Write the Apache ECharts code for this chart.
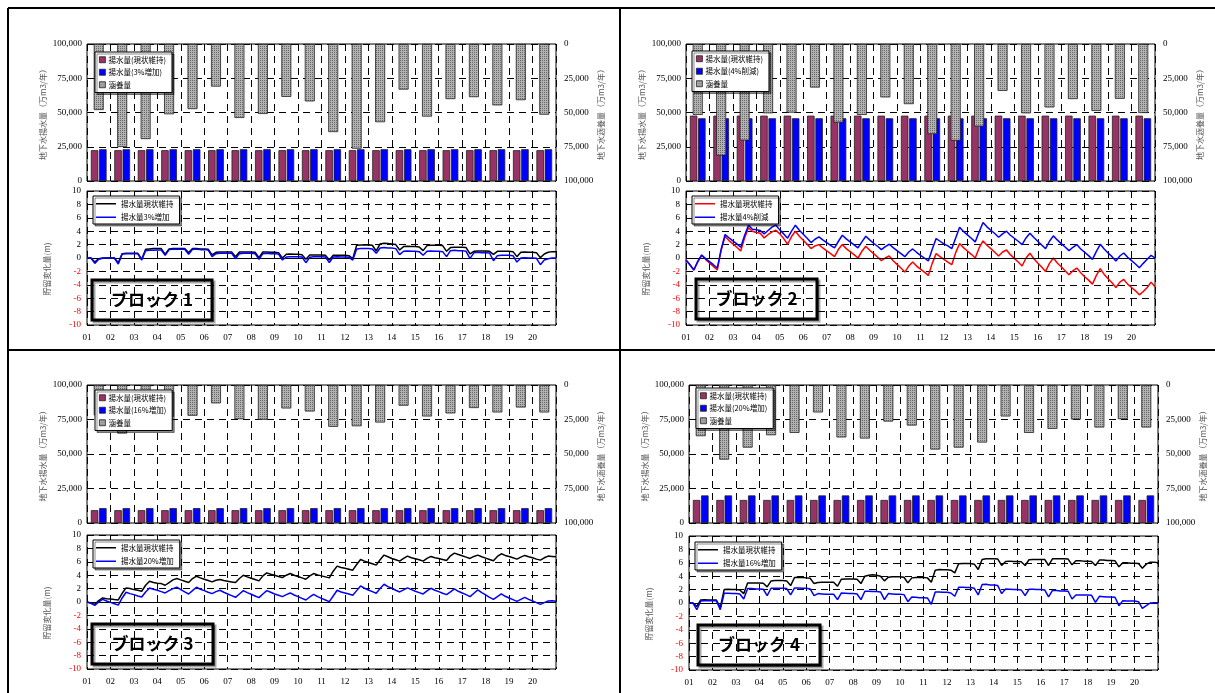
<!DOCTYPE html>
<html>
<head>
<meta charset="utf-8">
<script src="https://cdn.jsdelivr.net/npm/echarts@6/dist/echarts.min.js"></script>
<style>
  html, body { margin: 0; padding: 0; background: #fff; }
  #chart { width: 1215px; height: 693px; }
</style>
</head>
<body>
<div id="chart"></div>
<script>
// ---- categories / tick labels ----
const categories = ['01','02','03','04','05','06','07','08','09','10','11','12','13','14','15','16','17','18','19','20'];
const yearLabels = ['01','02','03','04','05','06','07','08','09','10','11','12','13','14','15','16','17','18','19','20'];
const flowTicks = [0, 25000, 50000, 75000, 100000];
const levelTicks = [-10, -8, -6, -4, -2, 0, 2, 4, 6, 8, 10];

// ---- annual pumping (万m3/年) ----
const pump1Now = [22500,22500,22500,22500,22500,22500,22500,22500,22500,22500,22500,22500,22500,22500,22500,22500,22500,22500,22500,22500];
const pump1Alt = [23200,23200,23200,23200,23200,23200,23200,23200,23200,23200,23200,23200,23200,23200,23200,23200,23200,23200,23200,23200];
const pump2Now = [47700,47700,47700,47700,47700,47700,47700,47700,47700,47700,47700,47700,47700,47700,47700,47700,47700,47700,47700,47700];
const pump2Alt = [45800,45800,45800,45800,45800,45800,45800,45800,45800,45800,45800,45800,45800,45800,45800,45800,45800,45800,45800,45800];
const pump3Now = [9300,9300,9300,9300,9300,9300,9300,9300,9300,9300,9300,9300,9300,9300,9300,9300,9300,9300,9300,9300];
const pump3Alt = [10800,10800,10800,10800,10800,10800,10800,10800,10800,10800,10800,10800,10800,10800,10800,10800,10800,10800,10800,10800];
const pump4Now = [16700,16700,16700,16700,16700,16700,16700,16700,16700,16700,16700,16700,16700,16700,16700,16700,16700,16700,16700,16700];
const pump4Alt = [20000,20000,20000,20000,20000,20000,20000,20000,20000,20000,20000,20000,20000,20000,20000,20000,20000,20000,20000,20000];

// ---- annual recharge (万m3/年) ----
const recharge1 = [48200,75200,69400,51300,47500,31100,54000,51100,38600,41900,64300,76400,57100,33300,53000,40200,38800,44800,41000,51600];
const recharge2 = [51800,81400,70400,50600,50100,31800,57300,51800,39000,43900,65800,70600,60200,34200,50600,46300,40200,48900,40000,50400];
const recharge3 = [22000,35200,27000,23000,22300,13300,24800,25200,17000,19200,30300,29900,27200,15000,22800,20600,16700,19900,16300,19900];
const recharge4 = [37100,54100,45400,36400,34700,19900,38000,38800,26500,29400,46800,45400,41700,22800,34700,31800,25000,30800,24800,30800];

// ---- storage change (m), six readings per year, 01 to end of 20 ----
const level1Now = [
  0,0,-0.6,-0.1,0,0,  0,0,-0.7,0.65,0.7,0.7,  0.7,0.7,-0.2,1.3,1.35,1.4,  1.4,1.4,0.55,1.35,1.4,1.4,
  1.4,1.4,0.8,1.4,1.4,1.35,  1.35,1.3,0.45,0.85,0.9,0.9,  0.9,0.9,0.2,0.9,0.9,0.9,  0.9,0.85,0.05,0.9,0.9,0.85,
  0.85,0.8,0,0.55,0.6,0.55,  0.55,0.5,-0.2,0.45,0.45,0.45,  0.45,0.4,-0.3,0.4,0.4,0.4,  0.4,0.35,-0.1,1.9,1.95,1.95,
  1.95,1.9,1.05,2.1,2.2,2.15,  2.1,2.0,1.2,1.7,1.75,1.7,  1.7,1.65,1.1,1.85,1.9,1.9,  1.9,1.85,1.0,1.55,1.6,1.6,
  1.6,1.55,0.6,1.0,1.05,1.05,  1.05,1.0,0.55,1.0,1.0,1.0,  1.0,0.95,0.2,0.85,0.9,0.85,  0.85,0.8,0.05,0.6,0.85,0.95,
  0.95
];
const level1Alt = [
  0,0,-0.8,-0.2,-0.05,0,  0,0,-0.9,0.6,0.65,0.65,  0.65,0.65,-0.3,1.1,1.15,1.15,  1.2,1.2,0.4,1.25,1.3,1.3,
  1.3,1.3,0.55,1.3,1.3,1.25,  1.25,1.2,0.2,0.65,0.7,0.7,  0.7,0.7,-0.1,0.65,0.7,0.7,  0.7,0.65,-0.2,0.65,0.7,0.65,
  0.65,0.6,-0.3,0.15,0.2,0.2,  0.2,0.15,-0.7,0.1,0.2,0.2,  0.2,0.15,-0.7,0.15,0.2,0.15,  0.15,0.1,-0.3,1.35,1.4,1.4,
  1.4,1.35,0.7,1.5,1.55,1.5,  1.5,1.4,0.5,1.0,1.05,1.0,  1.0,0.95,0.4,1.0,1.05,1.0,  1.0,0.95,0.2,1.1,1.15,1.1,
  1.1,1.0,-0.1,0.8,0.85,0.8,  0.8,0.75,-0.4,0.35,0.4,0.4,  0.4,0.35,-0.6,0,0.05,0,  0,-0.05,-1.0,-0.3,-0.1,0,
  0
];
const level2Now = [
  -0.3,-1.0,-1.8,-0.6,0.4,-0.2,  -0.75,-1.25,-1.8,1.2,3.2,2.6,  2.1,1.6,1.05,3.0,4.5,4.0,  3.8,3.7,3.0,3.5,3.9,4.15,
  3.6,2.9,2.05,3.2,4.0,3.25,  2.65,2.05,1.4,1.8,2.0,1.5,  1.05,0.65,0.2,1.3,2.0,1.4,  0.95,0.5,0,1.0,1.75,1.15,
  0.65,0.15,-0.4,0,0.3,-0.4,  -0.95,-1.5,-2.1,-1.2,-0.6,-1.2,  -1.65,-2.1,-2.6,-0.8,0.65,0.2,  -0.2,-0.6,-1.0,0.8,2.15,1.55,
  1.05,0.55,0,1.5,2.55,1.9,  1.4,0.85,0.3,0.9,1.2,0.5,  -0.05,-0.6,-1.2,0,0.7,-0.1,  -0.75,-1.35,-2.0,-0.8,0,-0.75,
  -1.3,-1.9,-2.5,-1.9,-1.5,-2.2,  -2.8,-3.3,-3.9,-2.6,-1.6,-2.45,  -3.1,-3.7,-4.4,-3.6,-3.2,-3.9,  -4.4,-4.9,-5.5,-5.0,-4.4,-3.6,
  -4.3
];
const level2Alt = [
  -0.3,-1.0,-1.8,-0.5,0.45,-0.1,  -0.55,-1.0,-1.5,1.3,3.5,3.0,  2.55,2.1,1.6,3.4,4.9,4.3,  4.2,4.1,3.6,4.1,4.6,4.9,
  4.2,3.6,2.95,4.0,4.9,4.15,  3.55,2.95,2.3,2.8,3.15,2.7,  2.3,1.9,1.5,2.5,3.4,2.85,  2.4,1.95,1.5,2.4,3.25,2.7,
  2.2,1.75,1.25,1.7,2.05,1.55,  1.1,0.65,0.2,0.9,1.35,0.85,  0.4,0,-0.45,1.3,2.9,2.5,  2.1,1.8,1.4,3.0,4.6,3.95,
  3.45,2.95,2.4,3.9,5.3,4.65,  4.15,3.65,3.1,3.6,4.0,3.4,  2.95,2.5,2.0,3.0,3.7,3.05,  2.5,1.95,1.4,2.5,3.3,2.7,
  2.15,1.65,1.1,1.6,2.0,1.35,  0.85,0.35,-0.2,1.0,2.05,1.35,  0.75,0.2,-0.45,0.3,0.75,0.1,  -0.4,-0.9,-1.45,-0.8,-0.2,0.4,
  0
];
const level3Now = [
  0,-0.15,-0.35,0.2,0.6,0.5,  0.45,0.37,0.3,1.3,2.1,2.0,  1.85,1.75,1.6,2.5,3.1,2.9,  2.8,2.75,2.5,2.9,3.3,3.5,
  3.3,3.1,2.9,3.5,3.85,3.6,  3.4,3.2,3.0,3.25,3.35,3.2,  3.1,3.0,2.9,3.5,4.0,3.75,  3.55,3.35,3.15,3.9,4.35,4.15,
  4.0,3.8,3.65,4.0,4.25,4.0,  3.8,3.6,3.4,3.9,4.25,4.05,  3.9,3.75,3.6,4.6,5.35,5.15,  5.05,4.9,4.75,5.6,6.35,6.1,
  5.9,5.7,5.5,6.3,7.0,6.75,  6.5,6.3,6.1,6.5,6.85,6.6,  6.45,6.3,6.1,6.5,6.8,6.6,  6.5,6.35,6.2,6.9,7.3,7.1,
  6.9,6.7,6.5,6.8,7.0,6.75,  6.55,6.35,6.15,6.8,7.2,6.95,  6.8,6.6,6.4,6.7,6.95,6.75,  6.6,6.4,6.25,6.6,6.85,6.8,
  6.75
];
const level3Alt = [
  0,-0.2,-0.5,0,0.4,0.15,  -0.05,-0.25,-0.45,0.6,1.45,1.25,  1.1,0.9,0.75,1.5,2.1,1.9,  1.75,1.55,1.35,1.7,2.0,2.2,
  1.85,1.5,1.2,1.7,2.2,1.9,  1.7,1.45,1.25,1.55,1.75,1.45,  1.2,0.95,0.7,1.2,1.7,1.4,  1.15,0.9,0.65,1.2,1.7,1.45,
  1.2,1.0,0.8,1.1,1.35,1.05,  0.8,0.55,0.3,0.75,1.15,0.8,  0.55,0.3,0.05,0.9,1.75,1.5,  1.35,1.2,1.0,1.7,2.4,2.05,
  1.8,1.55,1.3,2.0,2.65,2.3,  2.05,1.75,1.5,1.8,2.1,1.85,  1.6,1.4,1.2,1.65,2.05,1.75,  1.55,1.3,1.1,1.5,1.95,1.6,
  1.35,1.1,0.8,1.3,1.8,1.4,  1.05,0.7,0.4,0.8,1.2,0.85,  0.6,0.35,0.1,0.4,0.7,0.4,  0.15,-0.1,-0.35,-0.1,0.15,0.2,
  0.1
];
const level4Now = [
  0,0,-0.5,0.45,0.5,0.45,  0.45,0.45,-0.7,2.0,2.05,2.0,  2.0,1.95,1.4,3.0,3.0,3.0,  3.0,2.95,2.4,3.3,3.35,3.35,
  3.35,3.3,2.6,3.8,3.85,3.8,  3.75,3.7,2.9,3.05,3.1,3.1,  3.1,3.1,2.5,3.55,3.6,3.6,  3.6,3.55,2.9,4.0,4.15,4.2,
  4.15,4.0,3.3,3.85,3.9,3.9,  3.9,3.85,3.0,3.75,3.8,3.8,  3.8,3.75,3.1,4.9,5.0,4.95,  4.95,4.9,4.5,5.85,5.9,5.9,
  5.9,5.8,5.0,6.5,6.6,6.6,  6.6,6.55,5.6,6.2,6.25,6.2,  6.2,6.15,5.6,6.45,6.5,6.5,  6.5,6.5,5.6,6.6,6.6,6.6,
  6.6,6.55,5.7,6.3,6.3,6.25,  6.25,6.2,5.6,6.4,6.4,6.35,  6.35,6.3,5.4,6.0,6.0,5.95,  5.95,5.9,5.2,5.8,6.1,6.1,
  6.0
];
const level4Alt = [
  0,0,-1.0,0.3,0.35,0.35,  0.35,0.35,-1.0,1.45,1.45,1.4,  1.4,1.35,0.6,2.15,2.15,2.1,  2.1,2.05,1.1,2.2,2.2,2.2,
  2.2,2.15,1.2,2.25,2.25,2.2,  2.2,2.1,1.1,1.4,1.35,1.3,  1.3,1.3,0.5,1.5,1.45,1.4,  1.4,1.35,0.5,1.75,1.75,1.7,
  1.7,1.65,0.5,1.4,1.35,1.3,  1.3,1.25,0.2,0.9,0.85,0.8,  0.8,0.75,-0.2,1.65,1.65,1.6,  1.6,1.5,1.0,2.35,2.35,2.3,
  2.3,2.2,1.2,2.75,2.8,2.7,  2.7,2.6,1.4,2.1,2.05,2.0,  2.0,1.95,1.1,2.05,2.05,2.0,  2.0,1.95,0.9,1.9,1.85,1.8,
  1.8,1.75,0.6,1.2,1.2,1.2,  1.2,1.15,0.1,1.0,0.95,0.9,  0.9,0.85,-0.4,0.35,0.3,0.3,  0.3,0.2,-0.8,-0.4,0,0.05,
  0.05
];

// ---- panel layout ----
const PLOT_W = 469;
const panels = [
  { x: 87,  barTop: 44,  barH: 137, lineTop: 191, lineH: 134,
    pumpNow: pump1Now, pumpAlt: pump1Alt, recharge: recharge1, altBarName: '揚水量(3%増加)',
    lineNow: level1Now, lineAlt: level1Alt, altLineName: '揚水量3%増加', nowColor: '#000000',
    block: 'ブロック 1', barLegend: [95, 52], lineLegend: [93, 196], blockBox: [92, 280, 120, 40] },
  { x: 686, barTop: 44,  barH: 137, lineTop: 191, lineH: 134,
    pumpNow: pump2Now, pumpAlt: pump2Alt, recharge: recharge2, altBarName: '揚水量(4%削減)',
    lineNow: level2Now, lineAlt: level2Alt, altLineName: '揚水量4%削減', nowColor: '#ff0000',
    block: 'ブロック 2', barLegend: [692, 51], lineLegend: [692, 196], blockBox: [696, 279, 121, 40] },
  { x: 87,  barTop: 385, barH: 138, lineTop: 535, lineH: 134,
    pumpNow: pump3Now, pumpAlt: pump3Alt, recharge: recharge3, altBarName: '揚水量(16%増加)',
    lineNow: level3Now, lineAlt: level3Alt, altLineName: '揚水量20%増加', nowColor: '#000000',
    block: 'ブロック 3', barLegend: [95, 390], lineLegend: [93, 540], blockBox: [92, 624, 121, 40] },
  { x: 689, barTop: 385, barH: 138, lineTop: 536, lineH: 134,
    pumpNow: pump4Now, pumpAlt: pump4Alt, recharge: recharge4, altBarName: '揚水量(20%増加)',
    lineNow: level4Now, lineAlt: level4Alt, altLineName: '揚水量16%増加', nowColor: '#000000',
    block: 'ブロック 4', barLegend: [696, 388], lineLegend: [695, 542], blockBox: [698, 625, 122, 40] }
];

const SERIF = "'Liberation Serif', 'Times New Roman', serif";
const JP = "'Noto Sans CJK JP', 'Noto Sans', sans-serif";
const DASH = { color: '#000', width: 1, type: [7, 5] };

// fine stippled fill for the recharge bars
function stipple() {
  const c = document.createElement('canvas');
  c.width = 2; c.height = 2;
  const g = c.getContext('2d');
  g.fillStyle = '#b2b2b2'; g.fillRect(0, 0, 2, 2);
  g.fillStyle = '#686868';
  g.fillRect(0, 0, 1, 1);
  return c;
}
const stippleFill = { image: stipple(), repeat: 'repeat' };

const fmtFlow = v => Number(v).toLocaleString('en-US');
const toPairs = arr => arr.map((v, i) => [i / 6, v]);
const tag = (name, i) => name + '#' + i;
const untag = name => name.split('#')[0];

const grids = [], xAxes = [], yAxes = [], series = [], legends = [], graphics = [];

panels.forEach((p, i) => {
  const g0 = grids.length;
  grids.push({ left: p.x, top: p.barTop, width: PLOT_W, height: p.barH, show: true,
               borderColor: '#000', borderWidth: 1, backgroundColor: '#fff' });
  grids.push({ left: p.x, top: p.lineTop, width: PLOT_W, height: p.lineH, show: true,
               borderColor: '#000', borderWidth: 1, backgroundColor: '#fff' });

  const xa = xAxes.length;
  xAxes.push({ type: 'category', gridIndex: g0, data: categories,
               axisLabel: { show: false }, axisTick: { show: false }, axisLine: { show: false },
               splitLine: { show: true, interval: 0, lineStyle: DASH } });
  xAxes.push({ type: 'category', gridIndex: g0, data: categories, show: false });
  xAxes.push({ type: 'value', gridIndex: g0 + 1, min: 0, max: 20, interval: 1,
               axisLine: { show: false }, axisTick: { show: false },
               splitLine: { show: true, lineStyle: DASH },
               axisLabel: { formatter: v => yearLabels[v] || '', margin: 8,
                            fontFamily: SERIF, fontSize: 9, color: '#000' } });

  const ya = yAxes.length;
  yAxes.push({ type: 'value', gridIndex: g0, position: 'left',
               min: flowTicks[0], max: flowTicks[flowTicks.length - 1], interval: flowTicks[1] - flowTicks[0],
               name: '地下水揚水量（万m3/年）', nameLocation: 'middle', nameGap: 40, nameRotate: 90,
               nameTextStyle: { fontFamily: JP, fontSize: 8, color: '#555' },
               axisLine: { show: false }, axisTick: { show: false },
               axisLabel: { formatter: fmtFlow, fontFamily: SERIF, fontSize: 9, color: '#000', margin: 5 },
               splitLine: { show: true, lineStyle: DASH } });
  yAxes.push({ type: 'value', gridIndex: g0, position: 'right', inverse: true,
               min: flowTicks[0], max: flowTicks[flowTicks.length - 1], interval: flowTicks[1] - flowTicks[0],
               name: '地下水涵養量（万m3/年）', nameLocation: 'middle', nameGap: 40, nameRotate: 90,
               nameTextStyle: { fontFamily: JP, fontSize: 8, color: '#555' },
               axisLine: { show: false }, axisTick: { show: false },
               axisLabel: { formatter: fmtFlow, fontFamily: SERIF, fontSize: 9, color: '#000', margin: 8 },
               splitLine: { show: false } });
  yAxes.push({ type: 'value', gridIndex: g0 + 1,
               min: levelTicks[0], max: levelTicks[levelTicks.length - 1], interval: levelTicks[1] - levelTicks[0],
               name: '貯留変化量(m)', nameLocation: 'middle', nameGap: 36, nameRotate: 90,
               nameTextStyle: { fontFamily: JP, fontSize: 8, color: '#555', padding: [0, 22, 0, 0] },
               axisLine: { show: false }, axisTick: { show: false },
               axisLabel: { fontFamily: SERIF, fontSize: 9, margin: 6,
                            color: v => (Number(v) < 0 ? '#ff0000' : '#000') },
               splitLine: { show: true, lineStyle: DASH } });

  const nowBar = tag('揚水量(現状維持)', i), altBar = tag(p.altBarName, i), rchBar = tag('涵養量', i);
  series.push({ type: 'bar', name: nowBar, xAxisIndex: xa, yAxisIndex: ya, data: p.pumpNow,
                barWidth: 7.5, barGap: '10%', z: 2,
                itemStyle: { color: '#993366', borderColor: '#222', borderWidth: 0.8 } });
  series.push({ type: 'bar', name: altBar, xAxisIndex: xa, yAxisIndex: ya, data: p.pumpAlt,
                barWidth: 7.5, barGap: '10%', z: 2,
                itemStyle: { color: '#0000ff', borderColor: '#222', borderWidth: 0.8 } });
  series.push({ type: 'bar', name: rchBar, xAxisIndex: xa + 1, yAxisIndex: ya + 1, data: p.recharge,
                barWidth: 10, z: 3,
                itemStyle: { color: stippleFill, borderColor: '#222', borderWidth: 0.8 } });

  const nowLine = tag('揚水量現状維持', i), altLine = tag(p.altLineName, i);
  series.push({ type: 'line', name: nowLine, xAxisIndex: xa + 2, yAxisIndex: ya + 2,
                data: toPairs(p.lineNow), symbol: 'none', z: 4,
                lineStyle: { color: p.nowColor, width: 1.5 }, itemStyle: { color: p.nowColor },
                markLine: { silent: true, symbol: 'none', label: { show: false },
                            lineStyle: { color: '#000', width: 1, type: 'solid' },
                            data: [{ yAxis: 0 }] } });
  series.push({ type: 'line', name: altLine, xAxisIndex: xa + 2, yAxisIndex: ya + 2,
                data: toPairs(p.lineAlt), symbol: 'none', z: 5,
                lineStyle: { color: '#0000ff', width: 1.5 }, itemStyle: { color: '#0000ff' } });

  const boxStyle = { backgroundColor: '#fff', borderColor: '#000', borderWidth: 1,
                     shadowColor: 'rgba(0,0,0,0.45)', shadowOffsetX: 2, shadowOffsetY: 2, shadowBlur: 0,
                     selectedMode: false, orient: 'vertical', z: 10 };
  legends.push(Object.assign({}, boxStyle, {
    left: p.barLegend[0], top: p.barLegend[1], data: [nowBar, altBar, rchBar], formatter: untag,
    icon: 'rect', itemWidth: 6, itemHeight: 6, itemGap: 5, padding: [4, 6, 4, 4],
    itemStyle: { borderColor: '#222', borderWidth: 0.8 },
    textStyle: { fontFamily: JP, fontSize: 7.5, color: '#000', padding: [0, 0, 0, -2] } }));
  legends.push(Object.assign({}, boxStyle, {
    left: p.lineLegend[0], top: p.lineLegend[1], data: [nowLine, altLine], formatter: untag,
    icon: 'rect', itemWidth: 20, itemHeight: 1.5, itemGap: 6, padding: [4, 6, 3, 3],
    textStyle: { fontFamily: JP, fontSize: 7.5, color: '#000' } }));

  const [bx, by, bw, bh] = p.blockBox;
  graphics.push({ type: 'group', z: 20, children: [
    { type: 'rect', shape: { x: bx, y: by, width: bw, height: bh },
      style: { fill: '#fff', stroke: '#000', lineWidth: 3,
               shadowColor: 'rgba(0,0,0,0.35)', shadowOffsetX: 2, shadowOffsetY: 2 } },
    { type: 'text', x: bx + bw / 2, y: by + bh / 2,
      style: { text: p.block, fill: '#000', font: "bold 17px 'Noto Sans CJK JP', sans-serif",
               textAlign: 'center', textVerticalAlign: 'middle' } }
  ] });
});

// page frame dividing the four blocks
const frameLine = (x1, y1, x2, y2) => ({ type: 'line', z: 30, shape: { x1, y1, x2, y2 },
                                         style: { stroke: '#000', lineWidth: 2 } });
graphics.push(frameLine(8, 8, 1215, 8));
graphics.push(frameLine(8, 350, 1215, 350));
graphics.push(frameLine(8, 8, 8, 693));
graphics.push(frameLine(620, 8, 620, 693));

const chart = echarts.init(document.getElementById('chart'), null, { renderer: 'canvas', width: 1215, height: 693 });
chart.setOption({
  animation: false,
  backgroundColor: '#fff',
  grid: grids,
  xAxis: xAxes,
  yAxis: yAxes,
  legend: legends,
  series: series,
  graphic: graphics
});
</script>
</body>
</html>
